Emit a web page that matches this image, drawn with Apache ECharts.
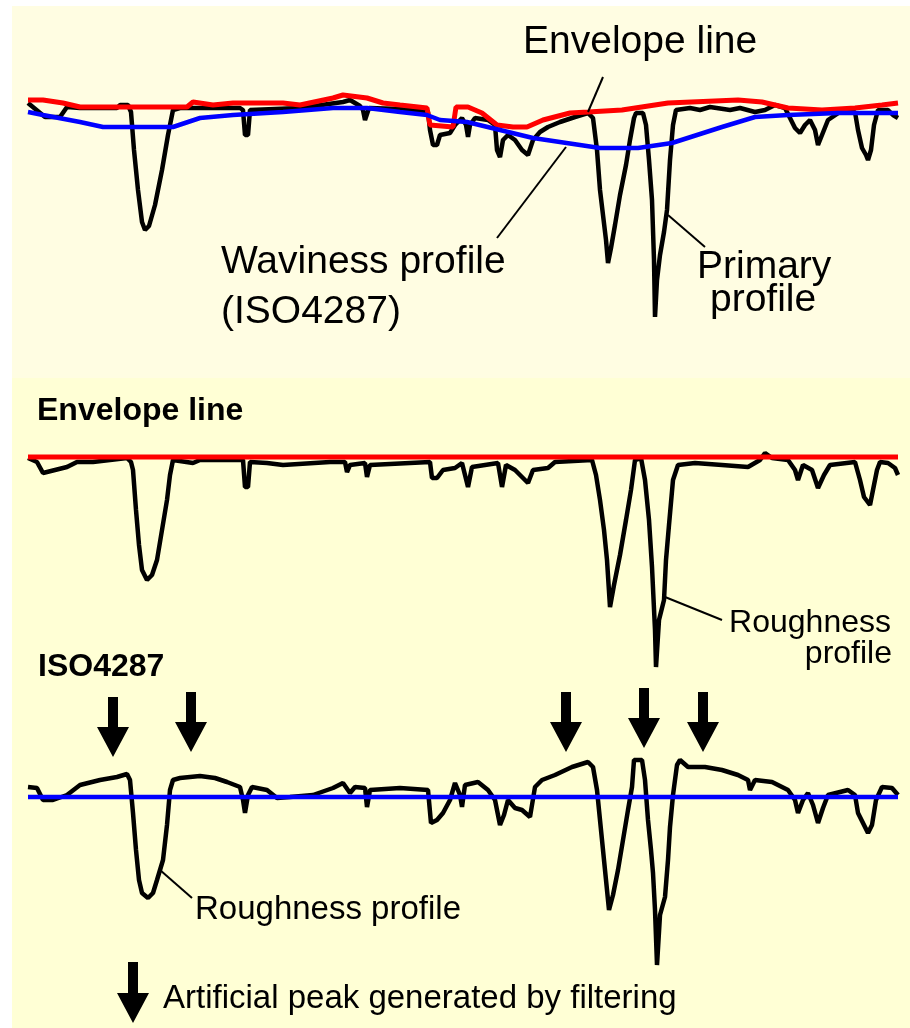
<!DOCTYPE html>
<html><head><meta charset="utf-8">
<script src="https://cdn.jsdelivr.net/npm/echarts@6/dist/echarts.min.js"></script>
<style>html,body{margin:0;padding:0;background:#fff}#c{width:910px;height:1028px}</style>
</head><body><div id="c"></div>
<script>
// x: position along the profile, y: height (arbitrary units)
const primaryProfile = [[0,2],[17,-12],[32,-12],[39,-2],[52,-3],[89,-3],[92,0],[100,0],[103,-7],[106,-45],[110,-85],[114,-117],[117,-125],[121,-121],[127,-100],[134,-65],[140,-30],[145,-5],[152,-3],[212,-3],[215,-5],[217,-30],[220,-30],[222,-5],[272,-3],[315,3],[322,5],[332,-1],[335,-5],[337,-15],[339,-15],[341,-3],[372,-4],[400,-7],[402,-25],[405,-40],[409,-40],[412,-30],[422,-28],[427,-20],[434,-13],[438,-20],[440,-32],[442,-20],[447,-13],[460,-15],[467,-20],[469,-45],[472,-52],[475,-35],[480,-30],[487,-35],[494,-45],[500,-50],[505,-35],[512,-27],[520,-22],[532,-17],[547,-12],[560,-8],[565,-13],[569,-45],[572,-85],[575,-110],[578,-135],[580,-158],[583,-143],[587,-120],[592,-90],[598,-60],[602,-35],[606,-13],[608,-8],[615,-8],[618,-20],[621,-55],[624,-95],[626,-155],[627,-212],[629,-175],[632,-150],[636,-127],[639,-105],[642,-55],[645,-20],[648,-5],[662,-3],[672,-5],[682,-2],[702,-5],[712,-3],[727,-7],[737,-5],[747,0],[757,-3],[762,-13],[767,-23],[772,-28],[777,-20],[782,-15],[787,-25],[790,-40],[794,-30],[800,-15],[812,-7],[827,-7],[830,-25],[834,-43],[838,-50],[840,-55],[843,-45],[846,-20],[850,-5],[860,-5],[865,-10],[870,-13]];
const envelopeLine = [[0,5],[15,5],[35,2],[52,-2],[159,-2],[165,3],[185,0],[205,2],[255,2],[272,0],[305,7],[315,10],[339,7],[355,2],[372,0],[399,-3],[402,-20],[425,-22],[428,-2],[440,-2],[454,-8],[469,-20],[485,-22],[499,-22],[515,-15],[542,-8],[560,-7],[594,-5],[640,2],[710,5],[734,3],[760,-3],[794,-5],[827,-3],[854,0],[870,2]];
const wavinessProfile = [[0,-7],[15,-10],[52,-17],[75,-22],[145,-22],[172,-13],[205,-10],[255,-7],[305,-3],[339,-3],[372,-7],[399,-10],[412,-15],[439,-17],[472,-25],[505,-33],[552,-40],[572,-43],[610,-43],[644,-38],[694,-22],[727,-12],[760,-10],[810,-8],[870,-8]];
const roughnessEnvelope = [[0,-1],[2,-1],[9,-5],[15,-16],[27,-13],[39,-10],[49,-5],[65,-5],[99,-1],[103,-5],[105,-13],[108,-53],[111,-88],[114,-113],[119,-123],[124,-118],[129,-103],[134,-73],[139,-43],[142,-18],[145,-3],[165,-6],[172,-3],[215,-3],[217,-30],[220,-30],[222,-5],[239,-6],[255,-8],[302,-5],[317,-5],[319,-15],[322,-8],[337,-6],[339,-20],[342,-8],[402,-5],[404,-21],[409,-21],[415,-13],[427,-11],[434,-6],[440,-30],[444,-10],[470,-6],[474,-30],[478,-8],[487,-13],[500,-26],[505,-13],[520,-11],[527,-5],[564,-3],[568,-18],[572,-43],[576,-73],[579,-103],[582,-150],[586,-128],[592,-98],[598,-63],[603,-33],[607,-3],[613,-1],[617,-23],[621,-63],[624,-110],[627,-173],[628,-210],[631,-163],[636,-143],[638,-103],[641,-68],[645,-23],[650,-8],[667,-6],[694,-8],[720,-10],[732,-3],[737,4],[744,-1],[760,-3],[767,-13],[770,-23],[775,-8],[784,-13],[790,-31],[796,-18],[802,-8],[827,-5],[832,-23],[836,-40],[842,-48],[845,-33],[849,-13],[852,-5],[860,-6],[867,-11],[870,-18]];
const envelopeRef = [[0,0],[870,0]];
const roughnessISO = [[0,10],[9,9],[15,-3],[25,-3],[39,2],[52,12],[72,17],[89,20],[99,23],[102,17],[105,-16],[108,-53],[111,-83],[114,-96],[120,-101],[125,-96],[129,-83],[135,-63],[139,-28],[142,7],[145,17],[152,19],[172,21],[187,19],[199,15],[212,10],[215,-3],[217,-16],[220,2],[224,10],[239,7],[249,-1],[262,0],[285,2],[305,9],[315,14],[322,4],[327,10],[337,9],[339,-10],[342,7],[372,9],[400,7],[403,-26],[409,-23],[415,-16],[422,-3],[427,14],[432,2],[434,-10],[437,12],[450,15],[460,7],[467,-3],[472,-28],[476,-18],[480,-3],[487,-11],[494,-13],[502,-20],[507,10],[514,17],[527,22],[544,30],[560,35],[565,30],[569,7],[572,-23],[575,-53],[578,-83],[581,-113],[585,-98],[590,-73],[595,-43],[600,-13],[604,10],[606,37],[614,37],[617,17],[620,-23],[623,-53],[625,-76],[627,-113],[629,-168],[632,-118],[637,-100],[640,-63],[642,-30],[645,2],[649,32],[652,37],[660,30],[677,30],[694,27],[710,22],[720,17],[722,7],[727,17],[744,15],[760,7],[767,-3],[770,-16],[775,-3],[780,4],[785,-8],[790,-26],[795,-11],[800,2],[820,7],[827,2],[830,-16],[836,-28],[840,-36],[844,-28],[848,-3],[854,10],[864,9],[870,2]];
const meanLineISO = [[0,0],[870,0]];
const artificialPeaks = [[85,40],[163,45],[538,45],[616,49],[675,45]];

const FONT = '"Liberation Sans", Arial, sans-serif';
const ARROW = 'path://M11,0 L21,0 L21,30 L32,30 L16,60 L0,30 L11,30 Z';

const chart = echarts.init(document.getElementById('c'), null, {renderer:'canvas'});
const xAx = i => ({gridIndex:i, type:'value', min:0, max:870, show:false});
function txt(t, x, y, size, opts) {
  return {type:'text', x:x, y:y, z:100, style:{text:t, fill:'#000', font:(opts&&opts.bold?'bold ':'')+size+'px '+FONT, textAlign:(opts&&opts.align)||'left', textVerticalAlign:'middle'}};
}
function seg(x1,y1,x2,y2){return {type:'line', z:100, shape:{x1:x1,y1:y1,x2:x2,y2:y2}, style:{stroke:'#000', lineWidth:2}};}
const lineS = (data, xi, color, w, z) => ({type:'line', xAxisIndex:xi, yAxisIndex:xi, data:data, showSymbol:false, symbol:'none', z:z, lineStyle:{color:color, width:w, opacity:1}, animation:false});

chart.setOption({
  backgroundColor:'#ffffff',
  animation:false,
  grid:[
    {left:28, width:870, top:40, height:300},
    {left:28, width:870, top:440, height:240},
    {left:28, width:870, top:680, height:300}
  ],
  xAxis:[xAx(0), xAx(1), xAx(2)],
  yAxis:[
    {gridIndex:0, type:'value', min:-235, max:65, show:false},
    {gridIndex:1, type:'value', min:-223, max:17, show:false},
    {gridIndex:2, type:'value', min:-183, max:117, show:false}
  ],
  series:[
    lineS(primaryProfile, 0, '#000000', 4.5, 3),
    lineS(envelopeLine, 0, '#ff0000', 5, 4),
    lineS(wavinessProfile, 0, '#0000ff', 4.5, 5),
    lineS(roughnessEnvelope, 1, '#000000', 4.5, 3),
    lineS(envelopeRef, 1, '#ff0000', 5, 4),
    lineS(roughnessISO, 2, '#000000', 4.5, 3),
    lineS(meanLineISO, 2, '#0000ff', 4.5, 4),
    {type:'scatter', xAxisIndex:2, yAxisIndex:2, data:artificialPeaks, symbol:ARROW, symbolSize:[32,60], symbolOffset:[0,'-50%'], itemStyle:{color:'#000', opacity:1}, emphasis:{disabled:true}, z:6, animation:false}
  ],
  graphic:[
    {type:'rect', z:-10, shape:{x:12, y:6, width:898, height:372}, style:{fill:'#fffde2'}},
    {type:'rect', z:-10, shape:{x:12, y:378, width:898, height:650}, style:{fill:'#ffffd5'}},
    txt('Envelope line', 523, 42, 39),
    txt('Waviness profile', 221, 262, 39),
    txt('(ISO4287)', 221, 312, 39),
    txt('Primary', 697, 267, 39),
    txt('profile', 710, 300, 39),
    txt('Envelope line', 37, 411, 32, {bold:true}),
    txt('ISO4287', 38, 667, 32, {bold:true}),
    txt('Roughness', 891, 623, 32, {align:'right'}),
    txt('profile', 892, 654, 32, {align:'right'}),
    txt('Roughness profile', 195, 910, 33),
    txt('Artificial peak generated by filtering', 163, 999, 33),
    seg(603,77,588,112),
    seg(497,238,566,147),
    seg(668,215,705,247),
    seg(665,597,722,620),
    seg(160,870,192,898),
    {type:'polygon', z:100, shape:{points:[[128,962],[138,962],[138,993],[149,993],[133,1023],[117,993],[128,993]]}, style:{fill:'#000'}}
  ]
});
</script></body></html>
